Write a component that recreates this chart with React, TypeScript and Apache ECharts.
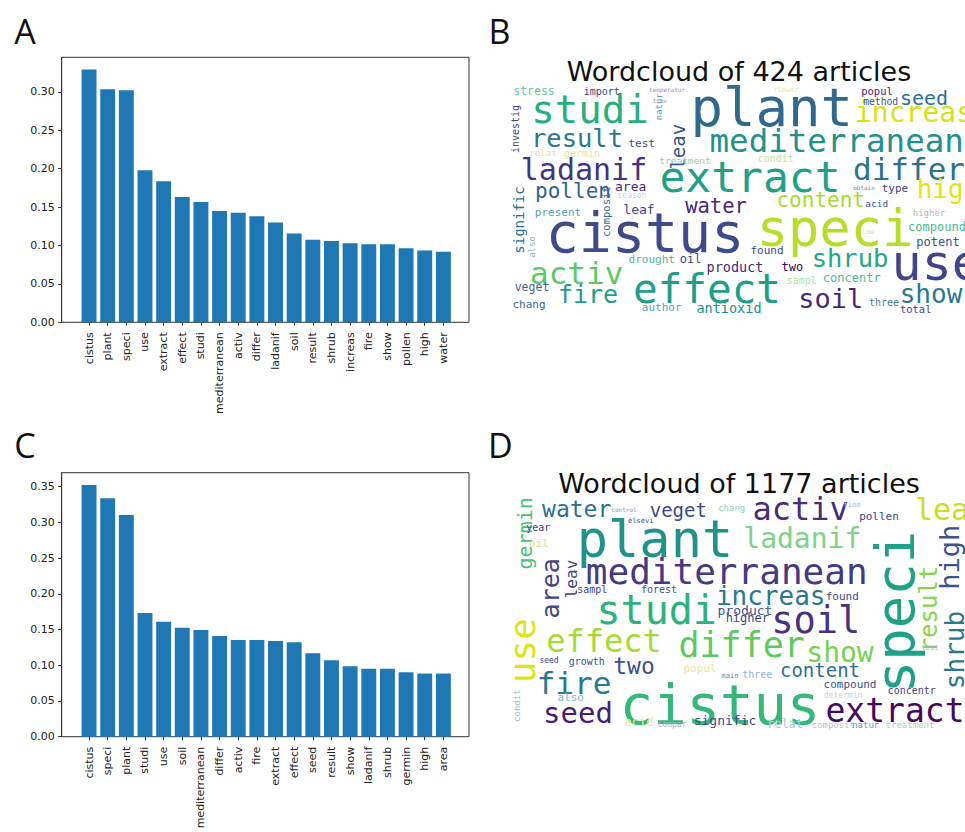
import React, { useEffect, useRef } from "react";
import * as echarts from "echarts";

// ---------- Panel A data ----------
const categoriesA = ["cistus", "plant", "speci", "use", "extract", "effect", "studi", "mediterranean", "activ", "differ", "ladanif", "soil", "result", "shrub", "increas", "fire", "show", "pollen", "high", "water"];
const valuesA = [0.329, 0.3035, 0.302, 0.198, 0.1835, 0.163, 0.1565, 0.145, 0.1426, 0.138, 0.13, 0.1157, 0.1074, 0.106, 0.103, 0.1017, 0.1017, 0.0965, 0.0935, 0.092];
const yTicksA = [0, 0.05, 0.1, 0.15, 0.2, 0.25, 0.3];

// ---------- Panel C data ----------
const categoriesC = ["cistus", "speci", "plant", "studi", "use", "soil", "mediterranean", "differ", "activ", "fire", "extract", "effect", "seed", "result", "show", "ladanif", "shrub", "germin", "high", "area"];
const valuesC = [0.3523, 0.3337, 0.3104, 0.1731, 0.161, 0.1527, 0.1494, 0.141, 0.1354, 0.1354, 0.134, 0.1322, 0.1168, 0.107, 0.0987, 0.095, 0.095, 0.0903, 0.0884, 0.0884];
const yTicksC = [0, 0.05, 0.1, 0.15, 0.2, 0.25, 0.3, 0.35];

// ---------- Panel B word cloud (word, weight = font size) ----------
const cloudBWords = ["plant", "cistus", "speci", "extract", "effect", "use", "studi", "mediterranean", "ladanif", "differ", "result", "increas", "activ", "fire", "shrub", "soil", "show", "pollen", "water", "content", "high", "leav", "seed", "antioxid", "product", "two", "leaf", "test", "present", "area", "drought", "oil", "found", "concentr", "sampl", "three", "total", "author", "veget", "chang", "stress", "import", "popul", "method", "type", "acid", "compound", "potent", "signific", "investig", "composit", "natur", "also", "treatment", "condit", "relat", "germin", "higher", "temperatur", "time", "flower", "obtain", "season", "low"];
const cloudBWeights = [54, 55, 52, 43, 41, 50, 39, 32.5, 30, 31, 25.5, 28, 31, 25, 25.5, 27, 26, 21, 20.5, 21, 26, 19, 20, 13.5, 13.5, 12, 13, 11, 11, 13, 11, 12, 11, 12, 10, 10, 10.5, 11, 11.5, 11, 11.5, 10, 10.5, 9.7, 11, 9.5, 12, 12, 14, 10, 10.5, 9, 9, 9.5, 10, 9, 10, 9, 6, 6, 7, 6, 8, 7];
// layout of panel B words: [x, y, rotation, colour]
const cloudBLayout: [number, number, number, string][] = [
  [771.7, 107.7, 0, "#31688e"], [645, 233, 0, "#3e4a89"], [835, 228, 0, "#b5de2b"], [750, 177, 0, "#1fa187"],
  [707, 289, 0, "#1f9e89"], [936.7, 262.5, 0, "#414487"], [590, 109.6, 0, "#29af7f"], [836.7, 140.5, 0, "#21918c"],
  [584, 169.5, 0, "#46337e"], [909, 169, 0, "#2c728e"], [577, 137.7, 0, "#2a788e"], [914, 112, 0, "#d8e219"],
  [576.7, 272.5, 0, "#5ec962"], [588, 294.5, 0, "#1f9e89"], [850, 257.7, 0, "#22a884"], [830.7, 298.7, 0, "#482878"],
  [931, 294, 0, "#2a788e"], [573, 190.7, 0, "#33638d"], [716, 206, 0, "#482878"], [820.7, 199.5, 0, "#a5db36"],
  [948, 189, 0, "#e3e418"], [677.7, 146.7, 90, "#3b528b"], [924, 98, 0, "#2c728e"], [729, 308, 0, "#21918c"],
  [735, 267, 0, "#482878"], [792.3, 267, 0, "#440154"], [639, 209, 0, "#414487"], [641.7, 143, 0, "#3e4989"],
  [558, 212, 0, "#5a9fb0"], [630.7, 186, 0, "#482878"], [651.7, 259.5, 0, "#4fb3a0"], [690.7, 259, 0, "#3e4a89"],
  [767, 250, 0, "#414487"], [851.7, 277.5, 0, "#52b9a0"], [801.7, 280, 0, "#b5dea0"], [884, 302, 0, "#3e7a9a"],
  [915.7, 309, 0, "#414487"], [661.7, 307, 0, "#5a9fbf"], [532, 287, 0, "#4a5f8f"], [529, 304, 0, "#3e6a8e"],
  [534, 91, 0, "#6cc5a8"], [601.7, 91, 0, "#414487"], [877, 91, 0, "#482878"], [880.7, 101, 0, "#3b528b"],
  [895, 188, 0, "#414487"], [876.7, 203, 0, "#3b528b"], [937, 227, 0, "#4cb690"], [938, 242, 0, "#3b528b"],
  [519, 220, 90, "#2c728e"], [515, 129, 90, "#414487"], [605.7, 211.7, 90, "#3e6a8e"], [659, 106.7, 90, "#5a9aa8"],
  [532, 247, 90, "#8fb0c0"], [685, 160, 0, "#8fcdb8"], [775.7, 158, 0, "#bfe0a8"], [543, 153, 0, "#dfe6a8"],
  [582, 153, 0, "#dfe6a8"], [929, 213, 0, "#b0b4c8"], [667, 89, 0, "#8e98c0"], [660, 100, 0, "#a0a8c8"],
  [786, 90, 0, "#e5e8a8"], [864, 187, 0, "#8088b0"], [632, 195, 0, "#bcd8e8"], [868, 232, 0, "#cce8b0"],
];

// ---------- Panel D word cloud ----------
const cloudDWords = ["plant", "cistus", "speci", "mediterranean", "studi", "soil", "activ", "ladanif", "increas", "differ", "effect", "show", "extract", "fire", "seed", "use", "area", "germin", "leav", "result", "high", "shrub", "leaf", "water", "veget", "two", "content", "compound", "concentr", "signific", "growth", "also", "year", "elsevi", "chang", "pollen", "sampl", "forest", "found", "product", "higher", "three", "main", "popul", "oil", "relat", "composit", "natur", "treatment", "condit", "acid", "control", "determin", "test", "seed", "time", "compar"];
const cloudDWeights = [52, 55.5, 54, 36, 40, 37, 32, 28, 26, 35, 32, 28, 33, 31, 29, 36, 25, 20, 16, 24, 27, 26, 30, 23, 19, 23, 19, 11, 10, 13, 10, 11, 10, 7, 9, 11, 10, 10, 11, 13, 12, 10, 7, 11, 11, 12, 9, 9, 9, 9, 12, 6, 8, 7, 8, 7, 8];
const cloudDLayout: [number, number, number, string][] = [
  [655, 538.5, 0, "#21918c"], [720, 704, 0, "#35b779"], [895, 612, 90, "#1fa187"], [726.7, 571, 0, "#443983"],
  [656.7, 609.5, 0, "#2db27d"], [815.7, 620.5, 0, "#46327e"], [800.7, 509, 0, "#472d7b"], [802.3, 538.5, 0, "#7fd18a"],
  [770.7, 596, 0, "#2a788e"], [741.7, 644.5, 0, "#5ec962"], [604, 640.5, 0, "#a5db36"], [840, 652, 0, "#7ad151"],
  [895, 710, 0, "#46085c"], [574, 682.5, 0, "#2a788e"], [578, 713, 0, "#481f70"], [522.3, 650.7, 90, "#dde318"],
  [550.7, 588.3, 90, "#414487"], [525, 533.3, 90, "#4ac16d"], [571.7, 579, 90, "#414487"], [929, 609, 90, "#86d549"],
  [949, 557.3, 90, "#3b528b"], [955, 650, 90, "#2a788e"], [951, 509, 0, "#c8e020"], [576.7, 508.5, 0, "#2c728e"],
  [678.3, 510, 0, "#3e4a89"], [634, 665.5, 0, "#3b528b"], [820, 670, 0, "#2d708e"], [850, 684, 0, "#3b528b"],
  [911.7, 690, 0, "#414487"], [725, 720, 0, "#3e4989"], [586.7, 661, 0, "#3b528b"], [570.7, 697, 0, "#7fb0d0"],
  [538.3, 527, 0, "#414487"], [640.7, 521, 0, "#414487"], [731.7, 508, 0, "#8fd0c0"], [879, 516, 0, "#414487"],
  [592.3, 589, 0, "#414487"], [659, 589, 0, "#3b528b"], [842.3, 596, 0, "#414487"], [745, 610, 0, "#3b528b"],
  [747.3, 618, 0, "#414487"], [757.3, 674, 0, "#8ab8d8"], [730, 676, 0, "#6a7aa8"], [700, 668, 0, "#e5e4a0"],
  [539, 543, 0, "#e0e08a"], [785, 724, 0, "#a8c8e0"], [833.3, 725, 0, "#b0c0d8"], [865.7, 725, 0, "#8090b8"],
  [910, 725, 0, "#a8d0c8"], [517.3, 705.7, 90, "#a0b8c8"], [639, 722, 0, "#e8e8a0"], [624, 509, 0, "#8890b8"],
  [843, 695, 0, "#c0d8e8"], [930, 648, 0, "#b0b8c8"], [549, 660, 0, "#414487"], [852, 505, 0, "#b0c0d0"],
  [672, 724, 0, "#a0b0c8"],
];

const BAR_COLOR = "#1f77b4";
const TICK_FONT = "DejaVu Sans";

function cloudData(words: string[], weights: number[], layout: [number, number, number, string][]) {
  return words.map((w, i) => ({
    name: w,
    value: [layout[i][0], layout[i][1]],
    label: { fontSize: weights[i], rotate: layout[i][2], color: layout[i][3] },
  }));
}

function frameAxes(gridIndex: number, max: number, ticks: number[]) {
  return {
    x: { gridIndex, type: "value", min: 0, max: 1, show: false },
    y: {
      gridIndex,
      type: "value",
      min: 0,
      max,
      axisLine: { show: true, lineStyle: { color: "#333", width: 1 } },
      axisTick: { show: true, length: 3.5, customValues: ticks, lineStyle: { color: "#333" } },
      axisLabel: {
        customValues: ticks,
        formatter: (v: number) => v.toFixed(2),
        fontSize: 11,
        fontFamily: TICK_FONT,
        color: "#222",
        margin: 7,
      },
      splitLine: { show: false },
    },
  };
}

function barAxes(gridIndex: number, max: number, cats: string[]) {
  return {
    x: {
      gridIndex,
      type: "category",
      data: cats,
      axisLine: { show: false },
      axisTick: { show: true, alignWithLabel: true, length: 3.5, lineStyle: { color: "#333" } },
      axisLabel: { rotate: 90, interval: 0, fontSize: 11, fontFamily: TICK_FONT, color: "#222", margin: 10 },
    },
    y: { gridIndex, type: "value", min: 0, max, show: false },
  };
}

function titleItem(text: string, x: number, y: number, size: number, family: string) {
  return {
    text,
    left: x,
    top: y,
    textAlign: "center",
    textVerticalAlign: "middle",
    padding: 0,
    textStyle: { fontSize: size, fontWeight: "normal", fontFamily: family, color: "#111" },
  };
}

export default function App() {
  const ref = useRef<HTMLDivElement>(null);
  useEffect(() => {
    if (!ref.current) return;
    const chart = echarts.init(ref.current, undefined, { renderer: "svg" });
    const fA = frameAxes(0, 0.345, yTicksA);
    const bA = barAxes(1, 0.345, categoriesA);
    const fC = frameAxes(2, 0.3696, yTicksC);
    const bC = barAxes(3, 0.3696, categoriesC);
    const cloudLabel = {
      show: true,
      formatter: "{b}",
      position: "inside",
      align: "center",
      verticalAlign: "middle",
      opacity: 1,
      fontFamily: "DejaVu Sans Mono",
    };
    chart.setOption({
      animation: false,
      backgroundColor: "#ffffff",
      title: [
        titleItem("A", 25, 31, 34, "Open Sans"),
        titleItem("B", 499.5, 31, 34, "Open Sans"),
        titleItem("C", 25, 444.5, 34, "Open Sans"),
        titleItem("D", 500.3, 444.5, 34, "Open Sans"),
        titleItem("Wordcloud of 424 articles", 739, 71.3, 27, "DejaVu Sans"),
        titleItem("Wordcloud of 1177 articles", 739, 483.3, 27, "DejaVu Sans"),
      ],
      grid: [
        { left: 61.7, top: 57.3, width: 407.3, height: 265, show: true, borderColor: "#333", borderWidth: 1, backgroundColor: "transparent" },
        { left: 79.7, top: 57.3, width: 373, height: 265 },
        { left: 61.7, top: 472.7, width: 407.3, height: 264, show: true, borderColor: "#333", borderWidth: 1, backgroundColor: "transparent" },
        { left: 79.7, top: 472.7, width: 373, height: 264 },
        { left: 505, top: 80, width: 460, height: 250 },
        { left: 505, top: 495, width: 460, height: 250 },
      ],
      xAxis: [
        fA.x, bA.x, fC.x, bC.x,
        { gridIndex: 4, type: "value", min: 505, max: 965, show: false },
        { gridIndex: 5, type: "value", min: 505, max: 965, show: false },
      ],
      yAxis: [
        fA.y, bA.y, fC.y, bC.y,
        { gridIndex: 4, type: "value", min: 80, max: 330, inverse: true, show: false },
        { gridIndex: 5, type: "value", min: 495, max: 745, inverse: true, show: false },
      ],
      series: [
        { type: "bar", xAxisIndex: 1, yAxisIndex: 1, data: valuesA, barWidth: "80%", itemStyle: { color: BAR_COLOR } },
        { type: "bar", xAxisIndex: 3, yAxisIndex: 3, data: valuesC, barWidth: "80%", itemStyle: { color: BAR_COLOR } },
        {
          type: "scatter", xAxisIndex: 4, yAxisIndex: 4, symbolSize: 0, silent: true, clip: false,
          itemStyle: { opacity: 1 },
          label: cloudLabel,
          data: cloudData(cloudBWords, cloudBWeights, cloudBLayout),
        },
        {
          type: "scatter", xAxisIndex: 5, yAxisIndex: 5, symbolSize: 0, silent: true, clip: false,
          itemStyle: { opacity: 1 },
          label: cloudLabel,
          data: cloudData(cloudDWords, cloudDWeights, cloudDLayout),
        },
      ],
    });
    return () => chart.dispose();
  }, []);
  return (
    <div
      ref={ref}
      style={{ position: "absolute", left: 0, top: 0, width: 965, height: 832, background: "#fff" }}
    />
  );
}
